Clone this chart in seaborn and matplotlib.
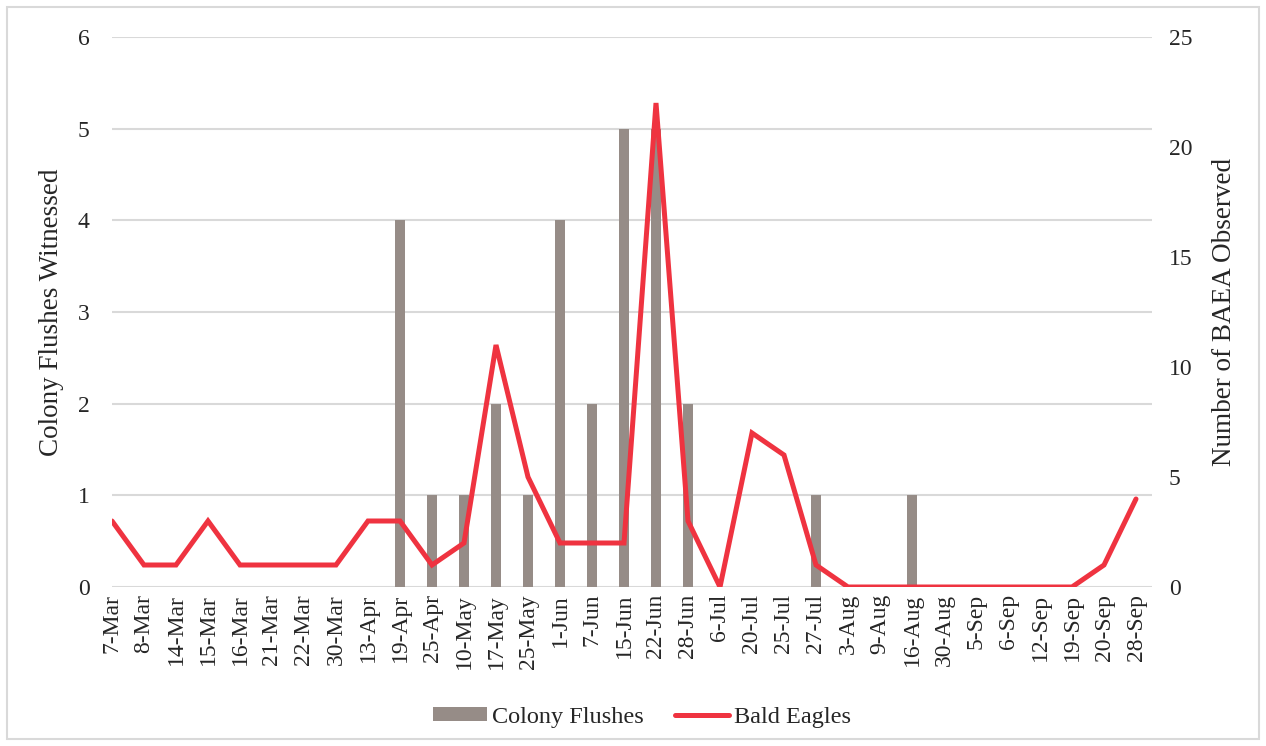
import matplotlib
matplotlib.use("Agg")
import matplotlib.pyplot as plt
import seaborn as sns
import pandas as pd
from matplotlib.patches import Rectangle, Patch
from matplotlib.lines import Line2D

dates = ["7-Mar", "8-Mar", "14-Mar", "15-Mar", "16-Mar", "21-Mar", "22-Mar", "30-Mar",
         "13-Apr", "19-Apr", "25-Apr", "10-May", "17-May", "25-May", "1-Jun", "7-Jun",
         "15-Jun", "22-Jun", "28-Jun", "6-Jul", "20-Jul", "25-Jul", "27-Jul", "3-Aug",
         "9-Aug", "16-Aug", "30-Aug", "5-Sep", "6-Sep", "12-Sep", "19-Sep", "20-Sep", "28-Sep"]
colony_flushes = [0, 0, 0, 0, 0, 0, 0, 0,
                  0, 4, 1, 1, 2, 1, 4, 2,
                  5, 5, 2, 0, 0, 0, 1, 0,
                  0, 1, 0, 0, 0, 0, 0, 0, 0]
bald_eagles = [3, 1, 1, 3, 1, 1, 1, 1,
               3, 3, 1, 2, 11, 5, 2, 2,
               2, 22, 3, 0, 7, 6, 1, 0,
               0, 0, 0, 0, 0, 0, 0, 1, 4]

BAR_COLOR = "#968C87"
LINE_COLOR = "#EF3340"
GRID_COLOR = "#D9D9D9"

df = pd.DataFrame({"date": dates, "flushes": colony_flushes, "eagles": bald_eagles})
df["pos"] = range(len(df))

sns.set_theme(style="white")
plt.rcParams["font.family"] = ["Liberation Serif", "DejaVu Serif"]

fig = plt.figure(figsize=(12.66, 7.46), dpi=100)
ax = fig.add_axes([112 / 1266, 1 - 587 / 746, (1152 - 112) / 1266, (587 - 37) / 746])

sns.barplot(data=df, x="date", y="flushes", order=dates, color=BAR_COLOR,
            saturation=1, width=0.32, ax=ax, zorder=2, linewidth=0)

ax2 = ax.twinx()
sns.lineplot(data=df, x="pos", y="eagles", color=LINE_COLOR, linewidth=3.6,
             ax=ax2, zorder=3, solid_capstyle="round", solid_joinstyle="miter")

ax.set_xlim(0, 32.5)
ax.set_ylim(0, 6)
ax.set_yticks(range(0, 7))
ax2.set_ylim(0, 25)
ax2.set_yticks(range(0, 26, 5))

ax.yaxis.grid(True, color=GRID_COLOR, linewidth=1.5, zorder=0)
ax.set_axisbelow(True)
for a in (ax, ax2):
    for s in a.spines.values():
        s.set_visible(False)
    a.tick_params(length=0)

ax.set_xticks(range(len(dates)))
ax.set_xticklabels(dates, rotation=90, fontsize=17)
ax.tick_params(axis="x", pad=5)
ax.tick_params(axis="y", labelsize=17, pad=16)
ax2.tick_params(axis="y", labelsize=17, pad=12)

ax.set_xlabel("")
ax.set_ylabel("Colony Flushes Witnessed", fontsize=19.5, labelpad=10)
ax2.set_xlabel("")
ax2.set_ylabel("Number of BAEA Observed", fontsize=19.5, labelpad=14)

handles = [Patch(facecolor=BAR_COLOR, edgecolor="none"),
           Line2D([0], [0], color=LINE_COLOR, linewidth=3.6, solid_capstyle="round")]
fig.legend(handles, ["Colony Flushes", "Bald Eagles"], loc="center",
           bbox_to_anchor=(642 / 1266, 1 - 717 / 746), ncol=2, frameon=False,
           fontsize=17.5, handlelength=2.2, handleheight=0.5, columnspacing=1.3,
           handletextpad=0.2)

fig.patches.append(Rectangle((7 / 1266, 7 / 746), 1 - 14 / 1266, 1 - 14 / 746,
                             transform=fig.transFigure, fill=False,
                             edgecolor="#D9D9D9", linewidth=1.5))

fig.savefig("out.png", dpi=100, facecolor="white")
